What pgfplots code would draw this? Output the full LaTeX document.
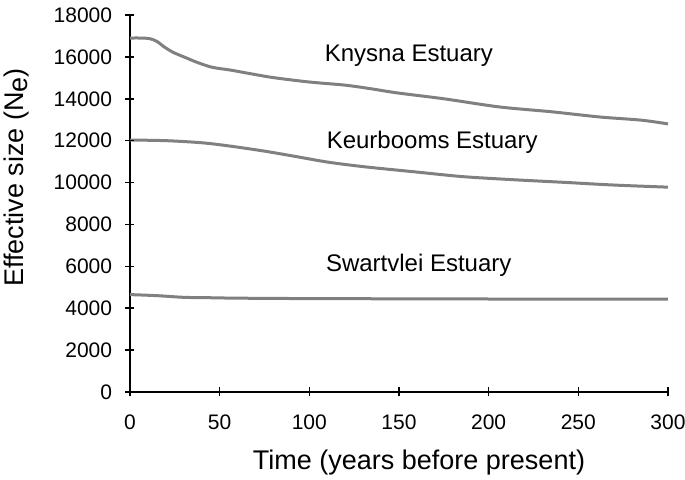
\documentclass[border=0pt]{standalone}
\usepackage{fontspec}
\setmainfont{Liberation Sans}
\usepackage{pgfplots}
\pgfplotsset{compat=1.18}
\definecolor{lgray}{RGB}{128,128,128}
\begin{document}
\begin{tikzpicture}
\begin{axis}[
  scale only axis, width=269pt, height=188.5pt,
  xmin=0, xmax=300, ymin=0, ymax=18000,
  axis x line*=bottom, axis y line*=left,
  axis line style={-, line width=0.9pt},
  xtick={0,50,...,300}, ytick={0,2000,...,18000},
  tick align=center,
  major tick length=4.5pt,
  every tick/.append style={black, line width=0.8pt},
  scaled y ticks=false,
  /pgf/number format/assume math mode=true,
  /pgf/number format/fixed,
  /pgf/number format/1000 sep={},
  tick label style={font=\fontsize{10.5}{12}\selectfont},
  yticklabel style={anchor=east, inner sep=0pt, xshift=-6.5pt},
  xticklabel style={anchor=north, inner sep=0pt, yshift=-9pt},
  xlabel={Time (years before present)},
  ylabel={Effective size (N\raisebox{-0.12em}{e})},
  label style={font=\fontsize{13.5}{15}\selectfont},
  xlabel style={at={(rel axis cs:0.5,0)}, anchor=base, xshift=10pt, yshift=-39pt},
  ylabel style={at={(rel axis cs:0,0.5)}, anchor=center, xshift=13pt, yshift=56.5pt},
  clip=false,
]
\addplot[lgray, line width=1.5pt, smooth] coordinates {
(0,16900) (6,16900) (11,16870) (15,16740) (19,16480) (24,16220) (30,16000)
(38,15720) (46,15500) (56,15370) (67,15200) (80,15010) (100,14800) (120,14650)
(135,14470) (149,14280) (175,14000) (206,13610) (235,13380) (262,13130)
(285,12980) (300,12800)};
\addplot[lgray, line width=1.5pt, smooth] coordinates {
(0,12030) (20,12000) (40,11900) (55,11750) (75,11500) (93,11235) (110,10980)
(130,10760) (160,10500) (186,10280) (215,10130) (242,10010) (270,9880) (300,9780)};
\addplot[lgray, line width=1.5pt, smooth] coordinates {
(0,4650) (15,4600) (30,4520) (45,4500) (60,4480) (100,4460) (200,4440) (300,4430)};
\pgfplotsinvokeforeach{0,50,100,150,200,250,300}{
  \draw[black, line width=0.8pt] (axis cs:#1,0) ++(0,-2.25pt) -- ++(0,4.5pt);
}
\pgfplotsinvokeforeach{0,2000,4000,6000,8000,10000,12000,14000,16000,18000}{
  \draw[black, line width=0.8pt] (axis cs:0,#1) ++(-2.25pt,0) -- ++(4.5pt,0);
}
\node[font=\fontsize{12}{14}\selectfont] at (axis cs:155.5,16045) {Knysna Estuary};
\node[font=\fontsize{12}{14}\selectfont] at (axis cs:168.5,11940) {Keurbooms Estuary};
\node[font=\fontsize{12}{14}\selectfont] at (axis cs:161,6065) {Swartvlei Estuary};
\end{axis}
\pgfresetboundingbox
\path ([xshift=-65pt,yshift=-44pt]current axis.south west) rectangle ++(342.5pt,240pt);
\end{tikzpicture}
\end{document}
